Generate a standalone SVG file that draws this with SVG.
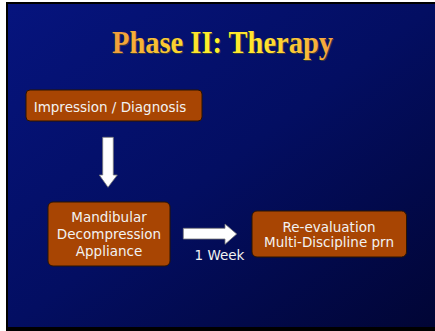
<svg xmlns="http://www.w3.org/2000/svg" width="435" height="331" viewBox="0 0 435 331">
<defs>
<linearGradient id="bg" x1="0" y1="0" x2="1" y2="1">
<stop offset="0" stop-color="#06147e"/>
<stop offset="0.5" stop-color="#030e62"/>
<stop offset="1" stop-color="#010535"/>
</linearGradient>
<linearGradient id="tg" x1="112" y1="0" x2="334" y2="0" gradientUnits="userSpaceOnUse">
<stop offset="0" stop-color="#f29a3c"/>
<stop offset="0.45" stop-color="#fff22a"/>
<stop offset="0.7" stop-color="#ffe030"/>
<stop offset="1" stop-color="#f4a040"/>
</linearGradient>
<style>
.box{fill:#a84503;stroke:#2a1400;stroke-width:1}
.lbl{font-family:"DejaVu Sans",sans-serif;font-size:13.5px;fill:#f2f2f2;text-anchor:middle}
.arr{fill:#ffffff;stroke:#7a7a7a;stroke-width:0.8}
</style>
</defs>
<rect x="0" y="0" width="435" height="331" fill="#ffffff"/>
<rect x="6" y="2" width="429" height="329" fill="#000000"/>
<rect x="8" y="4" width="427" height="323" fill="url(#bg)"/>
<g id="title">
<text x="223.5" y="54" font-family="'Liberation Serif',serif" font-weight="bold" font-size="32" text-anchor="middle" textLength="221" lengthAdjust="spacingAndGlyphs" fill="#3a3a3a">Phase II: Therapy</text>
<text x="222.5" y="53" font-family="'Liberation Serif',serif" font-weight="bold" font-size="32" text-anchor="middle" textLength="221" lengthAdjust="spacingAndGlyphs" fill="url(#tg)">Phase II: Therapy</text>
</g>
<g id="node-impression">
<rect class="box" x="26" y="90" width="176" height="31" rx="4"/>
<text class="lbl" x="110" y="111.5">Impression / Diagnosis</text>
</g>
<g id="node-appliance">
<rect class="box" x="48" y="202" width="122" height="64" rx="5"/>
<text class="lbl" x="109" y="222">Mandibular</text>
<text class="lbl" x="109" y="239">Decompression</text>
<text class="lbl" x="109" y="256">Appliance</text>
</g>
<g id="node-reevaluation">
<rect class="box" x="252" y="211" width="154.5" height="46" rx="5"/>
<text class="lbl" x="329" y="231.5">Re-evaluation</text>
<text class="lbl" x="329" y="246.5">Multi-Discipline prn</text>
</g>
<g id="connectors">
<path class="arr" d="M102.7,137.3 H113.3 V175 H117.3 L108,187.3 L99.3,175 H102.7 Z"/>
<path class="arr" d="M183.3,228.3 H225 V224 L236.7,234 L225,244.3 V239 H183.3 Z"/>
<text class="lbl" x="219.5" y="260">1 Week</text>
</g>
</svg>
